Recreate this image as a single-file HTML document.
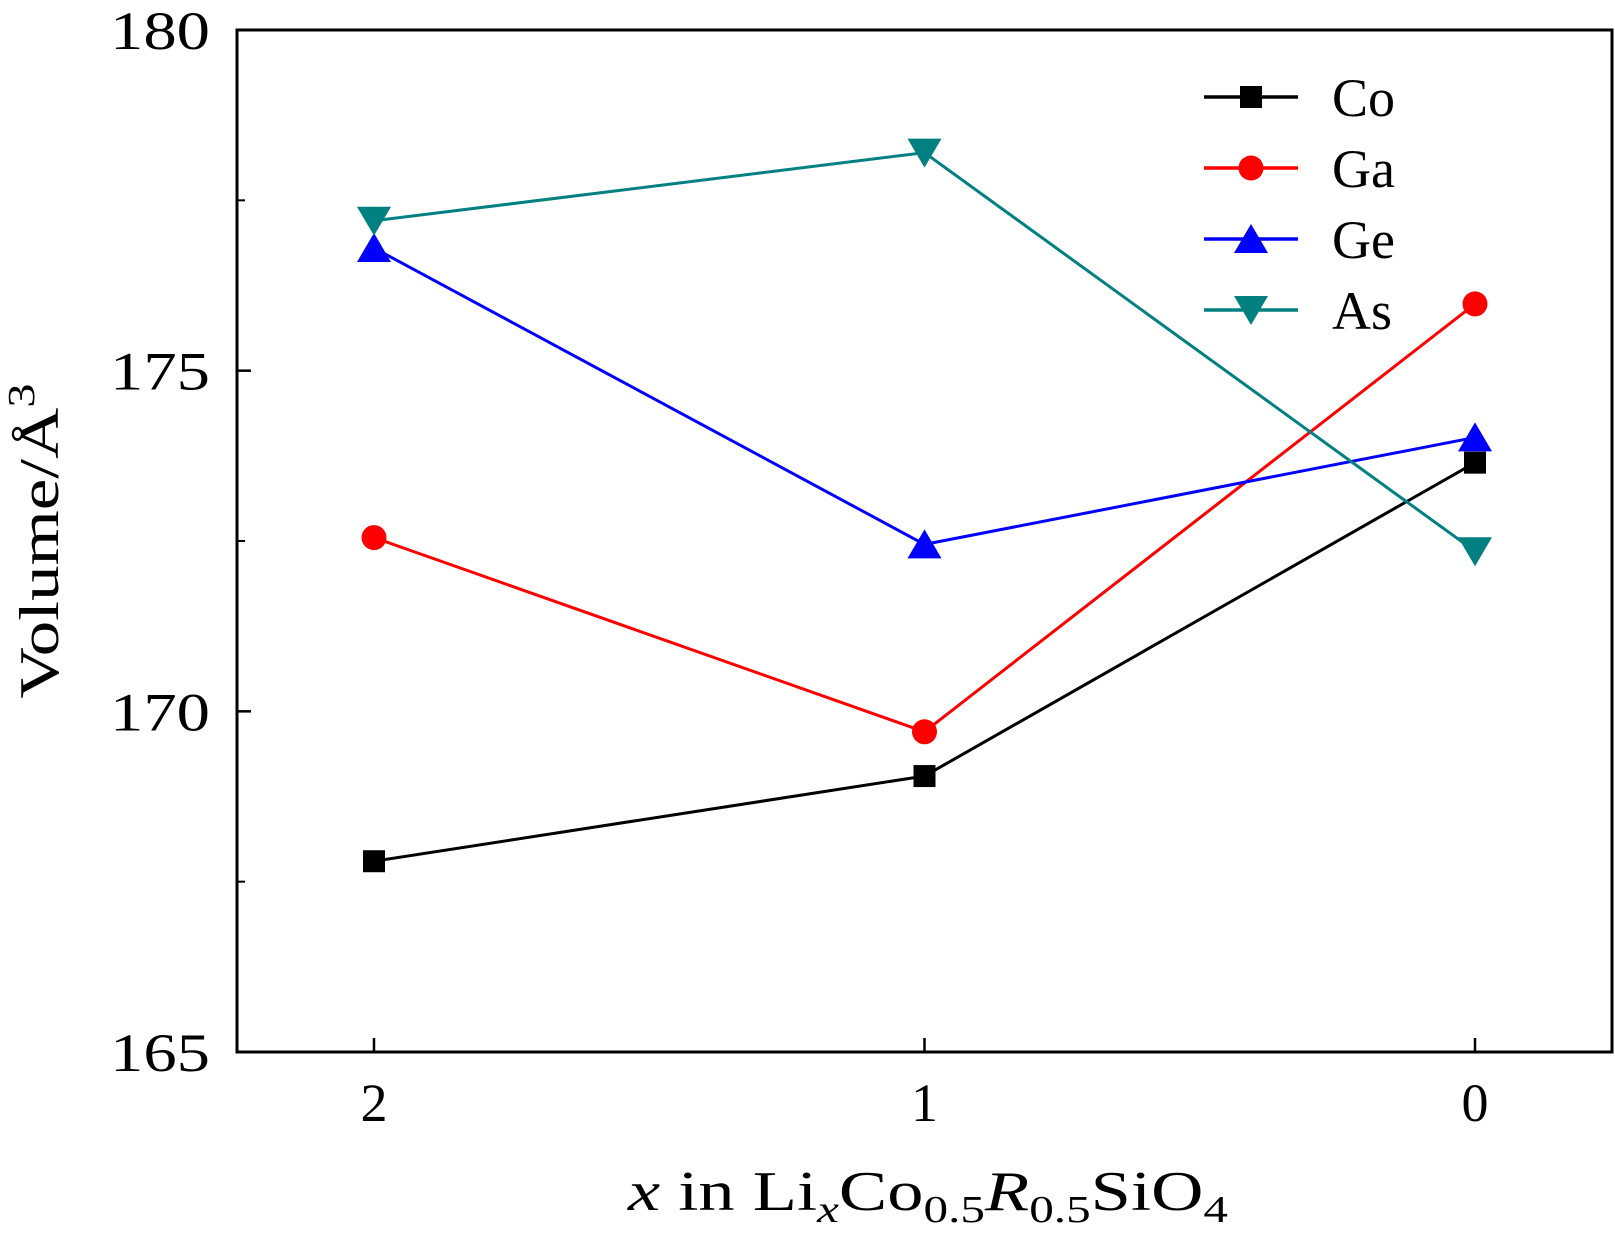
<!DOCTYPE html>
<html><head><meta charset="utf-8"><style>
body{margin:0;background:#fff}
svg text{font-family:"Liberation Serif",serif;fill:#000}
</style></head><body>
<svg id="chart" width="1615" height="1234" viewBox="0 0 1615 1234" xmlns="http://www.w3.org/2000/svg">
<g id="plot"></g>
</svg>
<script>
const categories = [2, 1, 0];
const coValues = [167.8, 169.05, 173.65];
const gaValues = [172.55, 169.7, 175.98];
const geValues = [176.8, 172.45, 174.02];
const asValues = [177.2, 178.2, 172.35];
const seriesNames = ["Co", "Ga", "Ge", "As"];
const yTickLabels = [165, 170, 175, 180];
const yMinorTicks = [167.5, 172.5, 177.5];

const NS = "http://www.w3.org/2000/svg";
const L = 237, R = 1612, T = 30, B = 1052;
function xScale(v) { return 1475 + (374 - 1475) * (v / 2); }
function yScale(v) { return B - (v - 165) / 15 * (B - T); }
const g = document.getElementById('plot');
function mk(tag, attrs, parent) {
  const e = document.createElementNS(NS, tag);
  for (const k in attrs) e.setAttribute(k, attrs[k]);
  (parent || g).appendChild(e);
  return e;
}
function marker(type, x, y, color, parent) {
  let e;
  if (type === 'sq') e = mk('rect', {x: x - 11, y: y - 11, width: 22, height: 22, fill: color}, parent);
  else if (type === 'ci') e = mk('circle', {cx: x, cy: y, r: 12.5, fill: color}, parent);
  else if (type === 'up') e = mk('polygon', {points: `${x},${y - 15} ${x - 17},${y + 14} ${x + 17},${y + 14}`, fill: color}, parent);
  else e = mk('polygon', {points: `${x},${y + 15} ${x - 17},${y - 14} ${x + 17},${y - 14}`, fill: color}, parent);
  return e;
}
yTickLabels.forEach(v => {
  const y = yScale(v);
  const t = mk('line', {x1: L, x2: L + 14, y1: y, y2: y, stroke: '#000', 'stroke-width': 2.5});
  
  
  const tx = mk('text', {x: 210, y: y + 19, 'text-anchor': 'end', 'font-size': 54, textLength: 100, lengthAdjust: 'spacingAndGlyphs'});
  tx.textContent = v;
  
  
});
yMinorTicks.forEach(v => {
  const y = yScale(v);
  const t = mk('line', {x1: L, x2: L + 8, y1: y, y2: y, stroke: '#000', 'stroke-width': 2});
  
  
});
categories.forEach(c => {
  const x = xScale(c);
  const t = mk('line', {x1: x, x2: x, y1: B, y2: B - 14, stroke: '#000', 'stroke-width': 2.5});
  
  
  const tx = mk('text', {x: x, y: 1121, 'text-anchor': 'middle', 'font-size': 54});
  tx.textContent = c;
  
  
});
const all = [[coValues, '#000', 'sq'], [gaValues, '#ff0000', 'ci'], [geValues, '#0000ff', 'up'], [asValues, '#008080', 'dn']];
all.forEach((s, i) => {
  const pts = categories.map((c, j) => [xScale(c), yScale(s[0][j])]);
  const pl = mk('polyline', {points: pts.map(p => p.join(',')).join(' '), fill: 'none', stroke: s[1], 'stroke-width': 3});
  
  
  pts.forEach(p => {
    const m = marker(s[2], p[0], p[1], s[1]);
    
    
  });
  const ly = 97 + i * 71;
  const lg = mk('g', {});
  
  
  mk('line', {x1: 1204, x2: 1298, y1: ly, y2: ly, stroke: s[1], 'stroke-width': 3.5}, lg);
  marker(s[2], 1251, ly, s[1], lg);
  const lt = mk('text', {x: 1332, y: ly + 19, 'font-size': 54}, lg);
  lt.textContent = seriesNames[i];
});
const fr = mk('rect', {x: L, y: T, width: R - L, height: B - T, fill: 'none', stroke: '#000', 'stroke-width': 3});


</script>
<svg style="position:absolute;left:0;top:0" width="1615" height="1234">
<text x="628" y="1210" font-size="56" textLength="600" lengthAdjust="spacingAndGlyphs" font-family="Liberation Serif,serif"><tspan font-style="italic">x</tspan> in Li<tspan font-style="italic" font-size="38" dy="12">x</tspan><tspan dy="-12">Co</tspan><tspan font-size="38" dy="12">0.5</tspan><tspan font-style="italic" dy="-12">R</tspan><tspan font-size="38" dy="12">0.5</tspan><tspan dy="-12">SiO</tspan><tspan font-size="38" dy="12">4</tspan></text>
<text transform="translate(58,541) rotate(-90)" text-anchor="middle" font-size="56" textLength="315" lengthAdjust="spacingAndGlyphs" font-family="Liberation Serif,serif">Volume/Å<tspan font-size="38" dy="-24">3</tspan></text>
</svg>
</body></html>
